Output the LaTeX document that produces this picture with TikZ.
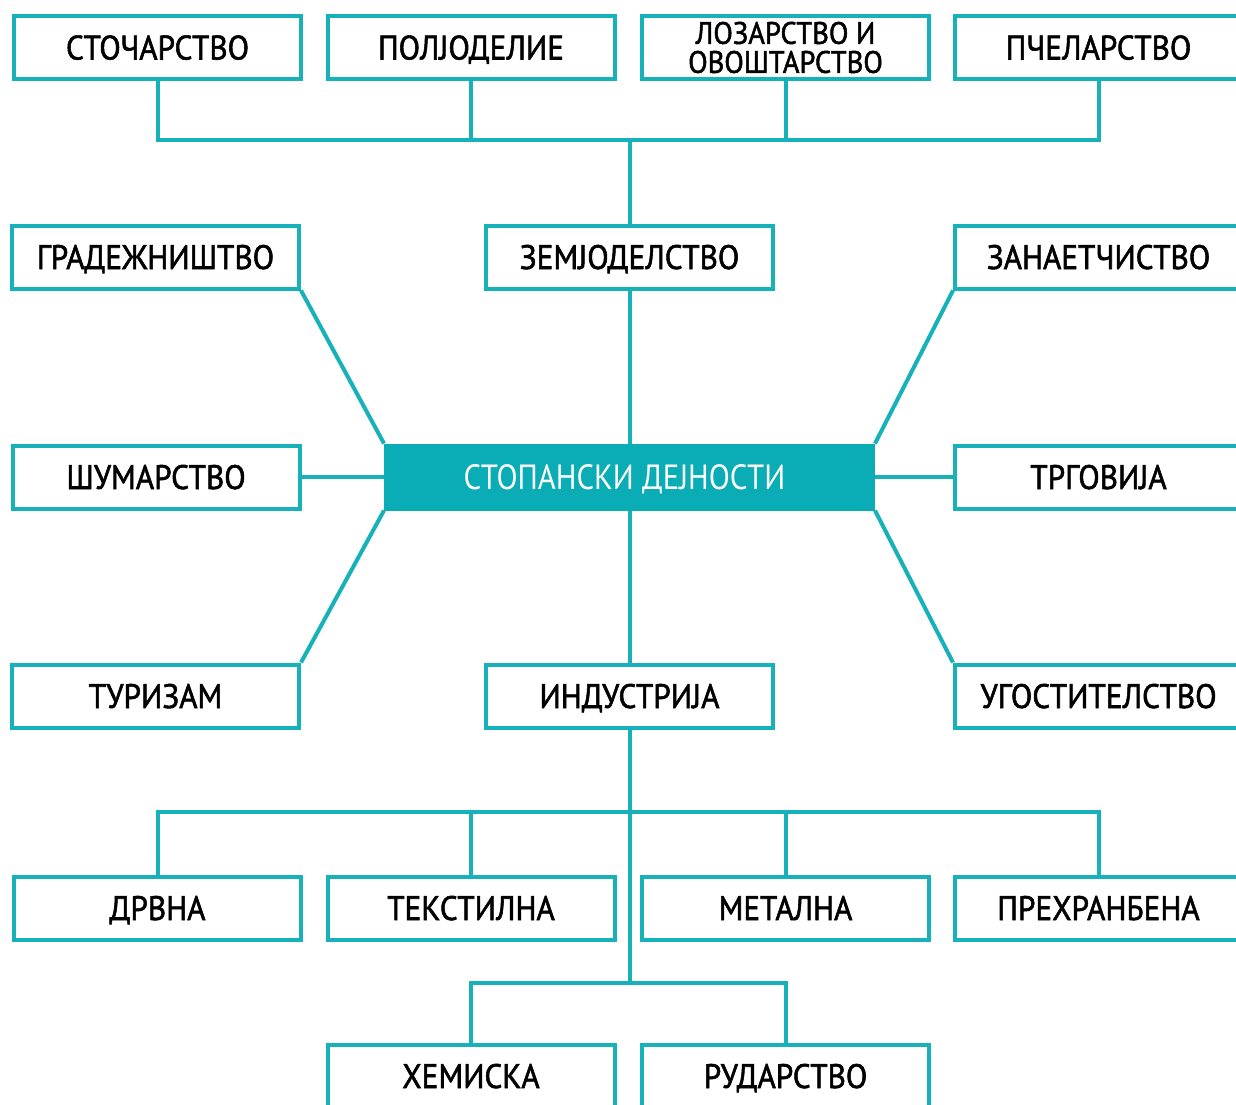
\documentclass[tikz,border=0pt]{standalone}
\usepackage{fontspec}
\setmainfont{PT Sans}[FakeStretch=0.88]
\newfontfamily\lblfont{PT Sans}[FakeStretch=0.92, FakeBold=1.6]
\definecolor{tealc}{HTML}{17B1B9}
\definecolor{tealf}{HTML}{0AACB5}
\begin{document}
\begin{tikzpicture}[x=1pt,y=-1pt,
  boxbase/.style={draw=tealc, line width=4pt, minimum width=287pt, minimum height=63pt,
    inner sep=0pt, align=center, text=black},
  box/.style={boxbase, text height=24pt, text depth=0pt,
    font=\lblfont\fontsize{34}{36}\selectfont},
  hub/.style={draw=tealf, fill=tealf, line width=4pt, minimum width=487pt, minimum height=63pt,
    inner sep=0pt, text=white, text height=24pt, text depth=0pt,
    font=\fontsize{35}{36}\selectfont},
  conn/.style={draw=tealc, line width=4pt}]
\useasboundingbox (0,0) rectangle (1236,1104);
\fill[white] (0,0) rectangle (1236,1104);
% top row
\node[box] (s1) at (157.5,47.5) {СТОЧАРСТВО};
\node[box] (s2) at (471,47.5) {ПОЛЈОДЕЛИЕ};
\node[boxbase, font=\lblfont\fontsize{31}{29}\selectfont] (s3) at (785.5,47.5) {ЛОЗАРСТВО И\\ОВОШТАРСТВО};
\node[box] (s4) at (1098.5,47.5) {ПЧЕЛАРСТВО};
% middle rows
\node[box] (grad) at (155.5,257) {ГРАДЕЖНИШТВО};
\node[box] (zem) at (629.5,257) {ЗЕМЈОДЕЛСТВО};
\node[box] (zan) at (1098.5,257) {ЗАНАЕТЧИСТВО};
\node[hub] (hub) at (629.5,477) {СТОПАНСКИ ДЕЈНОСТИ\hspace*{10pt}};
\node[box] (sum) at (156,477) {ШУМАРСТВО};
\node[box] (trg) at (1098.5,477) {ТРГОВИЈА};
\node[box] (tur) at (155.5,696) {ТУРИЗАМ};
\node[box] (ind) at (629.5,696) {ИНДУСТРИЈА};
\node[box] (ugo) at (1098.5,696) {УГОСТИТЕЛСТВО};
% industry branches
\node[box] (d1) at (157.5,908) {ДРВНА};
\node[box] (d2) at (471,908) {ТЕКСТИЛНА};
\node[box] (d3) at (785.5,908) {МЕТАЛНА};
\node[box] (d4) at (1098.5,908) {ПРЕХРАНБЕНА};
\node[box] (h1) at (471,1076) {ХЕМИСКА};
\node[box] (h2) at (785.5,1076) {РУДАРСТВО};
% junctions
\coordinate (tb) at (629.5,140);
\coordinate (bb1) at (629.5,812);
\coordinate (bb2) at (629.5,983);
% top connectors
\draw[conn] (s1.south) |- (tb);
\draw[conn] (s4.south) |- (tb);
\draw[conn] (s2.south) -- (s2.south |- tb);
\draw[conn] (s3.south) -- (s3.south |- tb);
\draw[conn] (tb) -- (zem.north);
% hub connectors
\draw[conn] (zem.south) -- (hub.north);
\draw[conn] (hub.south) -- (ind.north);
\draw[conn] (grad.south east) -- (hub.north west);
\draw[conn] (zan.south west) -- (hub.north east);
\draw[conn] (tur.north east) -- (hub.south west);
\draw[conn] (ugo.north west) -- (hub.south east);
\draw[conn] (sum.east) -- (hub.west);
\draw[conn] (trg.west) -- (hub.east);
% industry connectors
\draw[conn] (ind.south) -- (bb2);
\draw[conn] (d1.north) |- (bb1);
\draw[conn] (d4.north) |- (bb1);
\draw[conn] (d2.north) -- (d2.north |- bb1);
\draw[conn] (d3.north) -- (d3.north |- bb1);
\draw[conn] (h1.north) |- (bb2);
\draw[conn] (h2.north) |- (bb2);
\end{tikzpicture}
\end{document}
